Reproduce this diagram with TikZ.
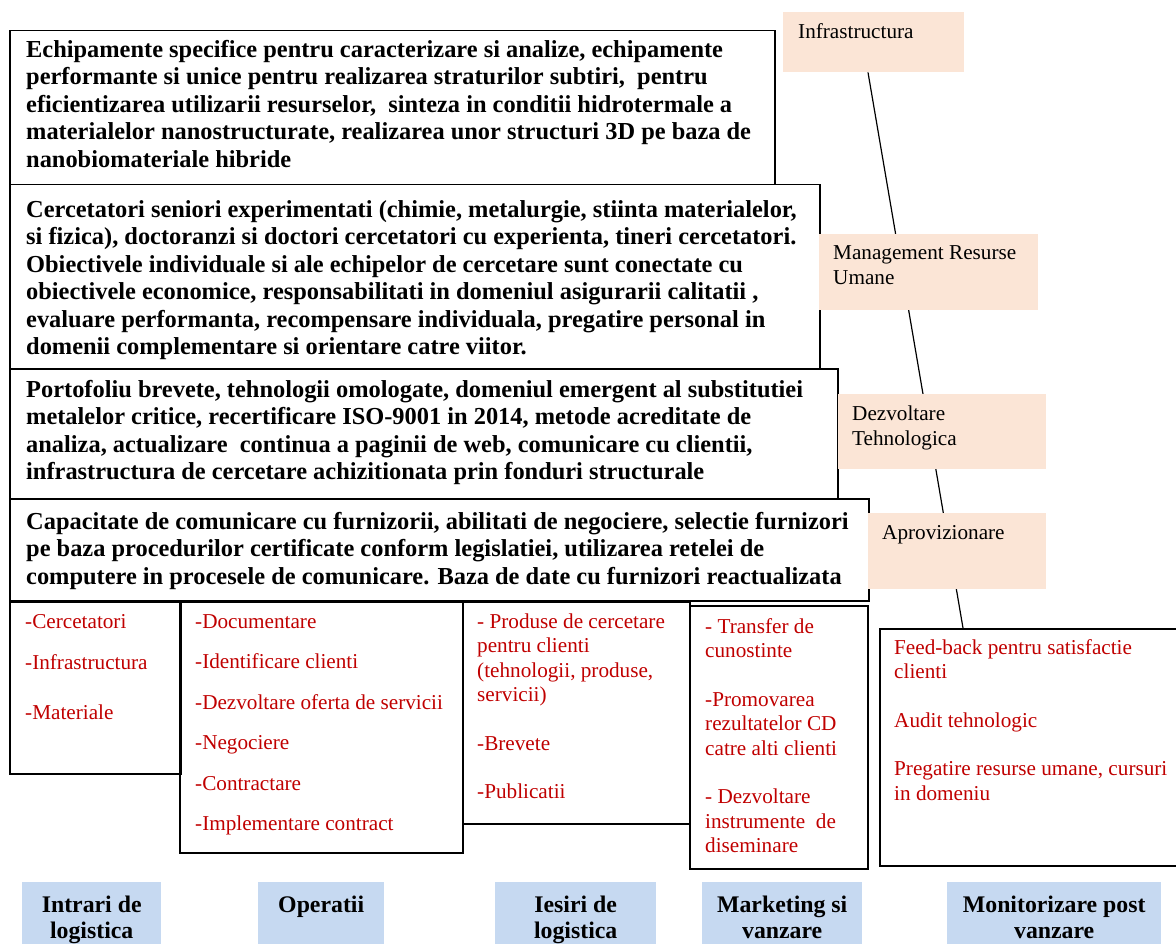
\documentclass[tikz,border=0pt]{standalone}
\usepackage{fontspec}
\setmainfont{Liberation Serif}
\usetikzlibrary{backgrounds,calc}
\definecolor{darkred}{HTML}{C00000}
\definecolor{peach}{HTML}{FBE5D6}
\definecolor{lightblue}{HTML}{C6D9F1}
\tikzset{
  frame/.style={draw=black, line width=1.5pt, inner sep=0pt},
  peachbox/.style={fill=peach, draw=none, inner sep=0pt},
  bluebox/.style={fill=lightblue, draw=none, inner sep=0pt},
  boldtext/.style={anchor=north west, inner sep=0pt, align=left,
    font=\fontsize{24.4}{27.5}\selectfont\bfseries},
  redtext/.style={anchor=north west, inner sep=0pt, align=left, text=darkred,
    font=\fontsize{21.2}{24.5}\selectfont},
  peachtext/.style={anchor=north west, inner sep=0pt, align=left,
    font=\fontsize{21.2}{25}\selectfont},
  bluetext/.style={anchor=north, inner sep=0pt, align=center,
    font=\fontsize{23.8}{26}\selectfont\bfseries},
}
\begin{document}
\begin{tikzpicture}[x=1pt,y=-1pt]
\useasboundingbox (0,0) rectangle (1176,944);
\clip (0,0) rectangle (1176,944);
% upper wide boxes
\node[frame, anchor=north west, minimum width=765pt, minimum height=154pt] (b1) at (9,30) {};
\node[frame, anchor=north west, minimum width=810pt, minimum height=184pt] (b2) at (9,184) {};
\node[frame, anchor=north west, minimum width=828pt, minimum height=130pt] (b3) at (9,368) {};
\node[frame, anchor=north west, minimum width=859pt, minimum height=102pt] (b4) at (9,498) {};
% lower boxes
\node[frame, anchor=north west, minimum width=171pt, minimum height=172pt] (bA) at (9,601) {};
\node[frame, anchor=north west, minimum width=283pt, minimum height=251pt] (bB) at (179,601) {};
\node[frame, anchor=north west, minimum width=227pt, minimum height=222pt] (bC) at (462,601) {};
\node[frame, anchor=north west, minimum width=178pt, minimum height=263pt] (bD) at (689,605) {};
\node[frame, anchor=north west, minimum width=310pt, minimum height=237pt] (bE) at (879,628) {};
% peach boxes
\node[peachbox, anchor=north west, minimum width=181pt, minimum height=60pt] (p1) at (783,12) {};
\node[peachbox, anchor=north west, minimum width=219pt, minimum height=76pt] (p2) at (819,234) {};
\node[peachbox, anchor=north west, minimum width=208pt, minimum height=75pt] (p3) at (838,394) {};
\node[peachbox, anchor=north west, minimum width=178pt, minimum height=76pt] (p4) at (868,513) {};
% connector behind the peach boxes
\begin{scope}[on background layer]
\draw[line width=1.2pt] ($(p1.south west)+(85,0)$) -- ($(bE.north west)+(84,0)$);
\end{scope}
% blue boxes
\node[bluebox, anchor=north west, minimum width=139pt, minimum height=70pt] (l1) at (22,882) {};
\node[bluebox, anchor=north west, minimum width=126pt, minimum height=70pt] (l2) at (258,882) {};
\node[bluebox, anchor=north west, minimum width=161pt, minimum height=70pt] (l3) at (495,882) {};
\node[bluebox, anchor=north west, minimum width=160pt, minimum height=70pt] (l4) at (702,882) {};
\node[bluebox, anchor=north west, minimum width=214pt, minimum height=70pt] (l5) at (947,882) {};
% bold texts
\node[boldtext] (t1) at (26,37.75) {\strut Echipamente specifice pentru caracterizare si analize, echipamente\\
performante si unice pentru realizarea straturilor subtiri,\ \ pentru\\
eficientizarea utilizarii resurselor,\ \ sinteza in conditii hidrotermale a\\
materialelor nanostructurate, realizarea unor structuri 3D pe baza de\\
nanobiomateriale hibride};
\node[boldtext] (t2) at (26,197.75) {\strut Cercetatori seniori experimentati (chimie, metalurgie, stiinta materialelor,\\
si fizica), doctoranzi si doctori cercetatori cu experienta, tineri cercetatori.\\
Obiectivele individuale si ale echipelor de cercetare sunt conectate cu\\
obiectivele economice, responsabilitati in domeniul asigurarii calitatii ,\\
evaluare performanta, recompensare individuala, pregatire personal in\\
domenii complementare si orientare catre viitor.};
\node[boldtext] (t3) at (26,377.75) {\strut Portofoliu brevete, tehnologii omologate, domeniul emergent al substitutiei\\
metalelor critice, recertificare ISO-9001 in 2014, metode acreditate de\\
analiza, actualizare\ \ continua a paginii de web, comunicare cu clientii,\\
infrastructura de cercetare achizitionata prin fonduri structurale};
\node[boldtext] (t4) at (26,509.75) {\strut Capacitate de comunicare cu furnizorii, abilitati de negociere, selectie furnizori\\
pe baza procedurilor certificate conform legislatiei, utilizarea retelei de\\
computere in procesele de comunicare. Baza de date cu furnizori reactualizata};
% red texts
\node[redtext] (rA) at (25,610.85) {\strut -Cercetatori\\[16.5pt]
-Infrastructura\\[25.5pt]
-Materiale};
\node[redtext] (rB) at (195,610.85) {\strut -Documentare\\[16pt]
-Identificare clienti\\[16pt]
-Dezvoltare oferta de servicii\\[16pt]
-Negociere\\[16pt]
-Contractare\\[16pt]
-Implementare contract};
\node[redtext] (rC) at (477,610.85) {\strut - Produse de cercetare\\
pentru clienti\\
(tehnologii, produse,\\
servicii)\\[24pt]
-Brevete\\[24pt]
-Publicatii};
\node[redtext] (rD) at (705,615.85) {\strut - Transfer de\\
cunostinte\\[24pt]
-Promovarea\\
rezultatelor CD\\
catre alti clienti\\[24pt]
- Dezvoltare\\
instrumente\ \ de\\
diseminare};
\node[redtext] (rE) at (894,636.85) {\strut Feed-back pentru satisfactie\\
clienti\\[24pt]
Audit tehnologic\\[24pt]
Pregatire resurse umane, cursuri\\
in domeniu};
% peach texts
\node[peachtext] (q1) at (798,20.5) {\strut Infrastructura};
\node[peachtext] (q2) at (833,241.5) {\strut Management Resurse\\Umane};
\node[peachtext] (q3) at (852,402.5) {\strut Dezvoltare\\Tehnologica};
\node[peachtext] (q4) at (882,521.5) {\strut Aprovizionare};
% blue texts
\node[bluetext] (u1) at ($(l1.north)+(0,11.8)$) {\strut Intrari de\\logistica};
\node[bluetext] (u2) at ($(l2.north)+(0,11.8)$) {\strut Operatii};
\node[bluetext] (u3) at ($(l3.north)+(0,11.8)$) {\strut Iesiri de\\logistica};
\node[bluetext] (u4) at ($(l4.north)+(0,11.8)$) {\strut Marketing si\\vanzare};
\node[bluetext] (u5) at ($(l5.north)+(0,11.8)$) {\strut Monitorizare post\\vanzare};
\end{tikzpicture}
\end{document}
